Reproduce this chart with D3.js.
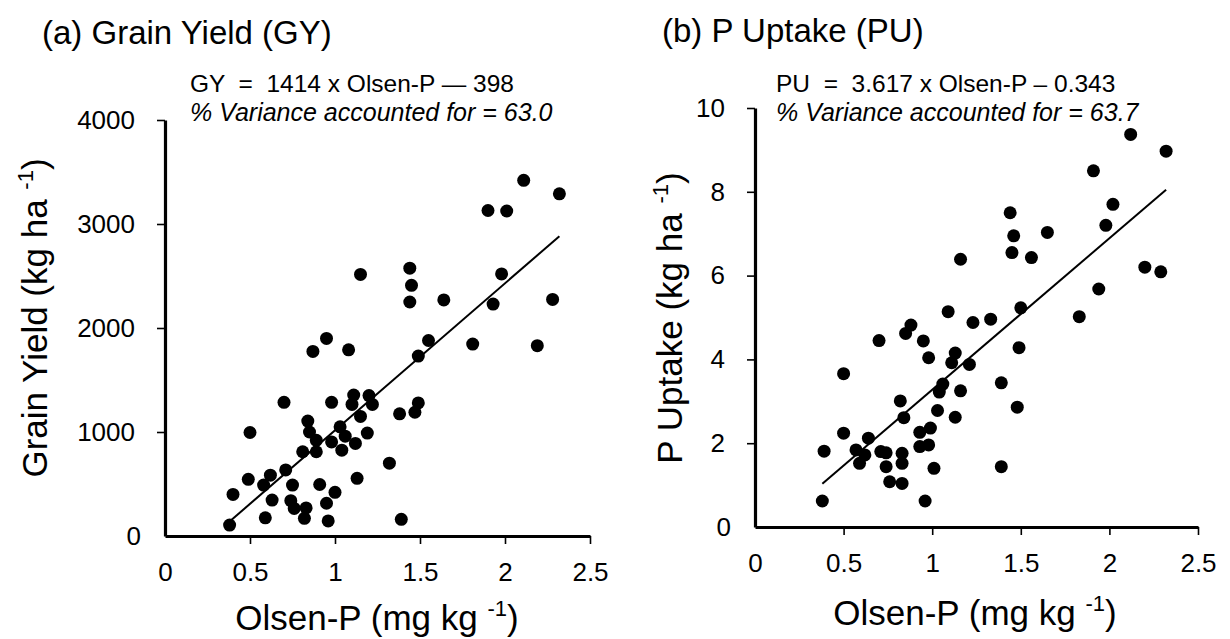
<!DOCTYPE html>
<html>
<head>
<meta charset="utf-8">
<script src="https://cdn.jsdelivr.net/npm/d3@7"></script>
<style>
  html, body { margin: 0; padding: 0; background: #fff; }
  svg { display: block; font-family: "Liberation Sans", Arial, Helvetica, sans-serif; }
</style>
</head>
<body>
<svg id="chart" width="1230" height="639"></svg>
<script>
// ---------- data ----------
const gyOlsen = [2.11,2.32,1.90,2.01,1.15,1.44,1.45,1.44,1.64,1.98,1.93,2.28,2.19,1.81,0.95,0.87,1.08,1.55,1.49,0.70,
  0.98,1.11,1.10,1.20,1.22,1.49,1.47,1.38,0.84,1.15,0.50,0.85,1.19,1.03,1.06,0.89,0.98,1.12,1.04,0.89,
  0.81,1.32,0.71,0.62,0.49,0.58,0.75,0.91,1.13,1.00,0.40,0.63,0.74,0.76,0.83,0.82,0.95,0.59,0.96,0.38,1.39];
const gyYield = [3420,3290,3130,3125,2515,2575,2410,2250,2270,2520,2230,2275,1830,1845,1900,1775,1790,1880,1730,1285,
  1285,1355,1265,1350,1265,1280,1190,1175,1105,1150,995,1000,990,1050,960,920,905,890,825,810,
  810,700,635,585,545,490,490,495,555,420,400,345,340,265,270,170,315,175,145,105,160];

const puOlsen = [2.12,2.32,1.91,2.02,1.98,1.44,1.46,1.65,1.45,1.56,1.16,2.20,2.29,1.94,1.50,1.83,1.09,1.23,1.33,0.88,
  0.85,0.70,0.95,0.98,1.49,1.13,1.11,1.21,0.50,1.06,1.04,1.16,1.39,0.82,1.48,1.03,1.13,0.84,0.50,0.64,
  0.99,0.93,0.57,0.62,0.59,0.39,0.71,0.74,0.83,0.83,0.93,0.98,0.74,1.01,1.39,0.76,0.83,0.38,0.96];
const puUptake = [9.37,8.97,8.50,7.70,7.20,7.50,6.95,7.03,6.55,6.43,6.39,6.20,6.09,5.68,5.23,5.02,5.14,4.88,4.96,4.82,
  4.62,4.45,4.44,4.04,4.28,4.15,3.92,3.88,3.66,3.41,3.22,3.25,3.44,3.01,2.86,2.78,2.62,2.61,2.24,2.12,
  2.36,2.26,1.84,1.72,1.52,1.81,1.80,1.77,1.76,1.52,1.92,1.96,1.44,1.40,1.44,1.08,1.04,0.62,0.62];

const xTicks = [0, 0.5, 1, 1.5, 2, 2.5];
const gyTicks = [0, 1000, 2000, 3000, 4000];
const puTicks = [0, 2, 4, 6, 8, 10];

// regression lines: slope, intercept, x range
const gyFit = { slope: 1414, intercept: -398, from: 0.38, to: 2.32 };
const puFit = { slope: 3.617, intercept: -0.343, from: 0.38, to: 2.32 };

const panels = [
  { title: "(a) Grain Yield (GY)", eq1: "GY  =  1414 x Olsen-P \u2014 398", eq2: "% Variance accounted for = 63.0",
    yTitle: "Grain Yield (kg ha", xs: gyOlsen, ys: gyYield, yTicks: gyTicks, yMax: 4000, fit: gyFit,
    box: { left: 165, right: 590, top: 120, bottom: 536 }, titleX: 42, titleY: 44, eqX: 190, yTitleX: 47, xTitleX: 377, xTitleY: 630 },
  { title: "(b) P Uptake (PU)", eq1: "PU  =  3.617 x Olsen-P \u2013 0.343", eq2: "% Variance accounted for = 63.7",
    yTitle: "P Uptake (kg ha", xs: puOlsen, ys: puUptake, yTicks: puTicks, yMax: 10, fit: puFit,
    box: { left: 755, right: 1198, top: 108, bottom: 527 }, titleX: 662, titleY: 42, eqX: 776, yTitleX: 682, xTitleX: 975, xTitleY: 625 }
];

const svg = d3.select("#chart");

panels.forEach(p => {
  const g = svg.append("g");
  const x = d3.scaleLinear().domain([0, 2.5]).range([p.box.left, p.box.right]);
  const y = d3.scaleLinear().domain([0, p.yMax]).range([p.box.bottom, p.box.top]);

  // axes
  const xAxis = d3.axisBottom(x).tickValues(xTicks).tickSize(8).tickSizeOuter(0).tickPadding(19)
    .tickFormat(d => String(d));
  const yAxis = d3.axisLeft(y).tickValues(p.yTicks).tickSize(8).tickSizeOuter(0).tickPadding(22)
    .tickFormat(d => String(d));

  const gx = g.append("g").attr("transform", `translate(0,${p.box.bottom})`).call(xAxis);
  const gy = g.append("g").attr("transform", `translate(${p.box.left},0)`).call(yAxis);

  [gx, gy].forEach(ax => {
    ax.select(".domain").attr("stroke", "#000").attr("stroke-width", 3.2);
    ax.selectAll(".tick line").attr("stroke", "#000").attr("stroke-width", 1.6);
    ax.selectAll(".tick text").attr("fill", "#000").attr("font-size", 26)
      .attr("font-family", "'Liberation Sans', Arial, sans-serif");
    ax.selectAll(".tick").filter(d => d === 0).select("line").remove();
  });
  gy.selectAll(".tick").filter(d => d === 0).select("text").attr("dx", 6);

  // regression line
  g.append("line")
    .attr("x1", x(p.fit.from)).attr("y1", y(p.fit.slope * p.fit.from + p.fit.intercept))
    .attr("x2", x(p.fit.to)).attr("y2", y(p.fit.slope * p.fit.to + p.fit.intercept))
    .attr("stroke", "#000").attr("stroke-width", 2);

  // points
  g.append("g").selectAll("circle").data(p.xs.map((v, i) => [v, p.ys[i]])).join("circle")
    .attr("cx", d => x(d[0])).attr("cy", d => y(d[1])).attr("r", 6.5).attr("fill", "#000");

  // titles
  g.append("text").attr("x", p.titleX).attr("y", p.titleY).attr("font-size", 33).text(p.title);
  g.append("text").attr("x", p.eqX).attr("y", 92).attr("font-size", 24.5).text(p.eq1).style("white-space", "pre");
  g.append("text").attr("x", p.eqX).attr("y", 121).attr("font-size", 25).attr("font-style", "italic").text(p.eq2);

  // x axis title
  const xt = g.append("text").attr("x", p.xTitleX).attr("y", p.xTitleY).attr("font-size", 35).attr("text-anchor", "middle");
  xt.append("tspan").text("Olsen-P (mg kg ");
  xt.append("tspan").attr("font-size", 22).attr("dy", -14).text("-1");
  xt.append("tspan").attr("dy", 14).text(")");

  // y axis title
  const yt = g.append("text").attr("transform", `translate(${p.yTitleX},318) rotate(-90)`)
    .attr("font-size", 35).attr("text-anchor", "middle");
  yt.append("tspan").text(p.yTitle + " ");
  yt.append("tspan").attr("font-size", 22).attr("dy", -14).text("-1");
  yt.append("tspan").attr("dy", 14).text(")");
});
</script>
</body>
</html>
